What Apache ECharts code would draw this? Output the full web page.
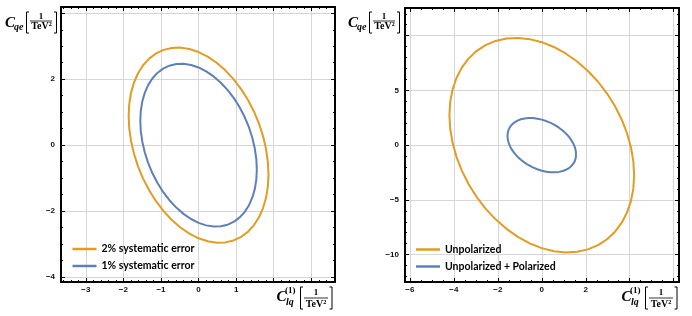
<!DOCTYPE html>
<html><head><meta charset="utf-8">
<script src="https://cdn.jsdelivr.net/npm/echarts@6/dist/echarts.min.js"></script>
<style>html,body{margin:0;padding:0;background:#fff}#c{width:692px;height:316px}</style>
</head><body><div id="c"></div>
<script>
// ---- data ----
const leftLegend = ['2% systematic error', '1% systematic error'];
const rightLegend = ['Unpolarized', 'Unpolarized + Polarized'];

const leftXLabels = [-3, -2, -1, 0, 1];
const leftYLabels = [-4, -2, 0, 2];
const rightXLabels = [-6, -4, -2, 0, 2];
const rightYLabels = [-10, -5, 0, 5];

// 2% systematic error contour (left panel), traced points
const sys2 = [
  [1.860, -0.888], [1.844, -0.512], [1.797, -0.127], [1.718, 0.260], [1.611, 0.643], [1.476, 1.015],
  [1.315, 1.369], [1.132, 1.700], [0.930, 2.002], [0.712, 2.269], [0.481, 2.498], [0.243, 2.684],
  [0.000, 2.824], [-0.243, 2.916], [-0.481, 2.958], [-0.712, 2.949], [-0.930, 2.890], [-1.132, 2.781],
  [-1.315, 2.625], [-1.476, 2.424], [-1.611, 2.181], [-1.718, 1.901], [-1.797, 1.589], [-1.844, 1.249],
  [-1.860, 0.888], [-1.844, 0.512], [-1.797, 0.127], [-1.718, -0.260], [-1.611, -0.643], [-1.476, -1.015],
  [-1.315, -1.369], [-1.132, -1.700], [-0.930, -2.002], [-0.712, -2.269], [-0.481, -2.498], [-0.243, -2.684],
  [0.000, -2.824], [0.243, -2.916], [0.481, -2.958], [0.712, -2.949], [0.930, -2.890], [1.132, -2.781],
  [1.315, -2.625], [1.476, -2.424], [1.611, -2.181], [1.718, -1.901], [1.797, -1.589], [1.844, -1.249],
  [1.860, -0.888]
];
// 1% systematic error contour (left panel)
const sys1 = [
  [1.550, -0.741], [1.537, -0.427], [1.497, -0.106], [1.432, 0.217], [1.342, 0.536], [1.230, 0.846],
  [1.096, 1.142], [0.944, 1.418], [0.775, 1.670], [0.593, 1.893], [0.401, 2.084], [0.202, 2.239],
  [0.000, 2.356], [-0.202, 2.433], [-0.401, 2.468], [-0.593, 2.460], [-0.775, 2.411], [-0.944, 2.320],
  [-1.096, 2.190], [-1.230, 2.022], [-1.342, 1.820], [-1.432, 1.586], [-1.497, 1.326], [-1.537, 1.042],
  [-1.550, 0.741], [-1.537, 0.427], [-1.497, 0.106], [-1.432, -0.217], [-1.342, -0.536], [-1.230, -0.846],
  [-1.096, -1.142], [-0.944, -1.418], [-0.775, -1.670], [-0.593, -1.893], [-0.401, -2.084], [-0.202, -2.239],
  [0.000, -2.356], [0.202, -2.433], [0.401, -2.468], [0.593, -2.460], [0.775, -2.411], [0.944, -2.320],
  [1.096, -2.190], [1.230, -2.022], [1.342, -1.820], [1.432, -1.586], [1.497, -1.326], [1.537, -1.042],
  [1.550, -0.741]
];
// Unpolarized contour (right panel)
const unpol = [
  [4.200, -2.744], [4.164, -1.493], [4.057, -0.216], [3.880, 1.065], [3.637, 2.328], [3.332, 3.550],
  [2.970, 4.712], [2.557, 5.793], [2.100, 6.776], [1.607, 7.642], [1.087, 8.377], [0.548, 8.969],
  [0.000, 9.408], [-0.548, 9.686], [-1.087, 9.798], [-1.607, 9.742], [-2.100, 9.520], [-2.557, 9.134],
  [-2.970, 8.593], [-3.332, 7.904], [-3.637, 7.080], [-3.880, 6.135], [-4.057, 5.086], [-4.164, 3.949],
  [-4.200, 2.744], [-4.164, 1.493], [-4.057, 0.216], [-3.880, -1.065], [-3.637, -2.328], [-3.332, -3.550],
  [-2.970, -4.712], [-2.557, -5.793], [-2.100, -6.776], [-1.607, -7.642], [-1.087, -8.377], [-0.548, -8.969],
  [0.000, -9.408], [0.548, -9.686], [1.087, -9.798], [1.607, -9.742], [2.100, -9.520], [2.557, -9.134],
  [2.970, -8.593], [3.332, -7.904], [3.637, -7.080], [3.880, -6.135], [4.057, -5.086], [4.164, -3.949],
  [4.200, -2.744]
];
// Unpolarized + Polarized contour (right panel)
const pol = [
  [1.560, -0.843], [1.547, -0.531], [1.507, -0.211], [1.441, 0.114], [1.351, 0.436], [1.238, 0.751],
  [1.103, 1.053], [0.950, 1.337], [0.780, 1.598], [0.597, 1.832], [0.404, 2.034], [0.204, 2.202],
  [0.000, 2.332], [-0.204, 2.422], [-0.404, 2.471], [-0.597, 2.477], [-0.780, 2.441], [-0.950, 2.363],
  [-1.103, 2.245], [-1.238, 2.088], [-1.351, 1.896], [-1.441, 1.671], [-1.507, 1.418], [-1.547, 1.140],
  [-1.560, 0.843], [-1.547, 0.531], [-1.507, 0.211], [-1.441, -0.114], [-1.351, -0.436], [-1.238, -0.751],
  [-1.103, -1.053], [-0.950, -1.337], [-0.780, -1.598], [-0.597, -1.832], [-0.404, -2.034], [-0.204, -2.202],
  [0.000, -2.332], [0.204, -2.422], [0.404, -2.471], [0.597, -2.477], [0.780, -2.441], [0.950, -2.363],
  [1.103, -2.245], [1.238, -2.088], [1.351, -1.896], [1.441, -1.671], [1.507, -1.418], [1.547, -1.140],
  [1.560, -0.843]
];

// ---- chart ----
const ORANGE = '#E19C24', BLUE = '#5E81B5';
const chart = echarts.init(document.getElementById('c'), null, {renderer: 'canvas'});

function fmt(list) {
  return function (v) {
    if (!list.includes(v)) return '';
    return String(v).replace('-', '\u2212');
  };
}
const labelStyle = {fontSize: 8, fontWeight: 'bold', fontFamily: '"Liberation Sans", Arial, sans-serif', color: '#111'};
const gridLine = {show: true, lineStyle: {color: '#d6d6d6', width: 1}};

function axis(kind, grid, pos, min, max, split, minorSplit, labels) {
  const main = labels !== null;
  return {
    type: 'value', gridIndex: grid, position: pos, min: min, max: max, splitNumber: split,
    axisLine: {show: true, onZero: false, lineStyle: {color: '#000', width: 2}},
    axisTick: {show: true, inside: true, length: 4, lineStyle: {color: '#000', width: 1}},
    minorTick: {show: true, splitNumber: minorSplit, length: 2, lineStyle: {color: '#000', width: 1}},
    axisLabel: main ? Object.assign({show: true, margin: kind === 'x' ? 4 : 6, formatter: fmt(labels)}, labelStyle) : {show: false},
    splitLine: main ? gridLine : {show: false},
    minorSplitLine: {show: false},
    scale: true
  };
}

const xAxes = [
  axis('x', 0, 'bottom', -3.66, 3.63, 7, 5, leftXLabels),
  axis('x', 0, 'top', -3.66, 3.63, 7, 5, null),
  axis('x', 1, 'bottom', -6.22, 6.24, 6, 4, rightXLabels),
  axis('x', 1, 'top', -6.22, 6.24, 6, 4, null)
];
const yAxes = [
  axis('y', 0, 'left', -4.15, 4.19, 4, 4, leftYLabels),
  axis('y', 0, 'right', -4.15, 4.19, 4, 4, null),
  axis('y', 1, 'left', -12.5, 12.53, 5, 5, rightYLabels),
  axis('y', 1, 'right', -12.5, 12.53, 5, 5, null)
];

function curve(name, data, xi, yi, color) {
  return {
    type: 'line', name: name, data: data, xAxisIndex: xi, yAxisIndex: yi,
    showSymbol: false, symbol: 'none', smooth: false, silent: true,
    lineStyle: {color: color, width: 2, join: 'round'}, itemStyle: {color: color}
  };
}

const legendText = {fontSize: 10.5, fontWeight: 'bold', fontFamily: 'Lato, "Open Sans", sans-serif', color: '#000', lineHeight: 14};

function yTitle(ox) {
  const serif = '"Liberation Serif", "DejaVu Serif", serif';
  return [
    {type: 'text', x: ox + 5, y: 23.5, style: {text: 'C', font: 'italic bold 15px ' + serif, fill: '#000', verticalAlign: 'middle'}},
    {type: 'text', x: ox + 14, y: 27, style: {text: 'qe', font: 'italic bold 10px ' + serif, fill: '#000', verticalAlign: 'middle'}},
    {type: 'polyline', shape: {points: [[ox + 29, 12], [ox + 26.5, 12], [ox + 26.5, 33], [ox + 29, 33]]}, style: {stroke: '#000', lineWidth: 1, fill: 'none'}},
    {type: 'text', x: ox + 41, y: 16.5, style: {text: '1', font: 'bold 9px ' + serif, fill: '#000', align: 'center', verticalAlign: 'middle'}},
    {type: 'line', shape: {x1: ox + 30, y1: 21, x2: ox + 52, y2: 21}, style: {stroke: '#000', lineWidth: 0.8}},
    {type: 'text', x: ox + 41.5, y: 26.5, style: {text: 'TeV\u00b2', font: 'bold 10px ' + serif, fill: '#000', align: 'center', verticalAlign: 'middle'}},
    {type: 'polyline', shape: {points: [[ox + 54, 12], [ox + 56.5, 12], [ox + 56.5, 33], [ox + 54, 33]]}, style: {stroke: '#000', lineWidth: 1, fill: 'none'}}
  ];
}
function xTitle(ox) {
  const serif = '"Liberation Serif", "DejaVu Serif", serif';
  return [
    {type: 'text', x: ox + 276.5, y: 297.5, style: {text: 'C', font: 'italic bold 15px ' + serif, fill: '#000', verticalAlign: 'middle'}},
    {type: 'text', x: ox + 285, y: 291, style: {text: '(1)', font: 'bold 9px ' + serif, fill: '#000', verticalAlign: 'middle'}},
    {type: 'text', x: ox + 286, y: 302.5, style: {text: 'lq', font: 'italic bold 10px ' + serif, fill: '#000', verticalAlign: 'middle'}},
    {type: 'polyline', shape: {points: [[ox + 303, 287], [ox + 300.5, 287], [ox + 300.5, 309], [ox + 303, 309]]}, style: {stroke: '#000', lineWidth: 1, fill: 'none'}},
    {type: 'text', x: ox + 316, y: 292.5, style: {text: '1', font: 'bold 9px ' + serif, fill: '#000', align: 'center', verticalAlign: 'middle'}},
    {type: 'line', shape: {x1: ox + 304, y1: 298, x2: ox + 328, y2: 298}, style: {stroke: '#000', lineWidth: 0.8}},
    {type: 'text', x: ox + 316, y: 304, style: {text: 'TeV\u00b2', font: 'bold 10px ' + serif, fill: '#000', align: 'center', verticalAlign: 'middle'}},
    {type: 'polyline', shape: {points: [[ox + 329.5, 287], [ox + 332, 287], [ox + 332, 309], [ox + 329.5, 309]]}, style: {stroke: '#000', lineWidth: 1, fill: 'none'}}
  ];
}

chart.setOption({
  animation: false,
  backgroundColor: '#fff',
  grid: [
    {left: 61, right: 357, top: 7, bottom: 34},
    {left: 405, right: 13, top: 8, bottom: 34}
  ],
  xAxis: xAxes,
  yAxis: yAxes,
  legend: [
    {data: leftLegend, orient: 'vertical', left: 67.5, top: 237, itemWidth: 24, itemHeight: 2.5, itemGap: 3, icon: 'rect', textStyle: legendText, selectedMode: false},
    {data: rightLegend, orient: 'vertical', left: 411, top: 237.5, itemWidth: 24, itemHeight: 2.5, itemGap: 3, icon: 'rect', textStyle: legendText, selectedMode: false}
  ],
  series: [
    curve(leftLegend[0], sys2, 0, 0, ORANGE),
    curve(leftLegend[1], sys1, 0, 0, BLUE),
    curve(rightLegend[0], unpol, 2, 2, ORANGE),
    curve(rightLegend[1], pol, 2, 2, BLUE)
  ],
  graphic: [].concat(yTitle(0), yTitle(343), xTitle(0), xTitle(345))
});
</script>
</body></html>
